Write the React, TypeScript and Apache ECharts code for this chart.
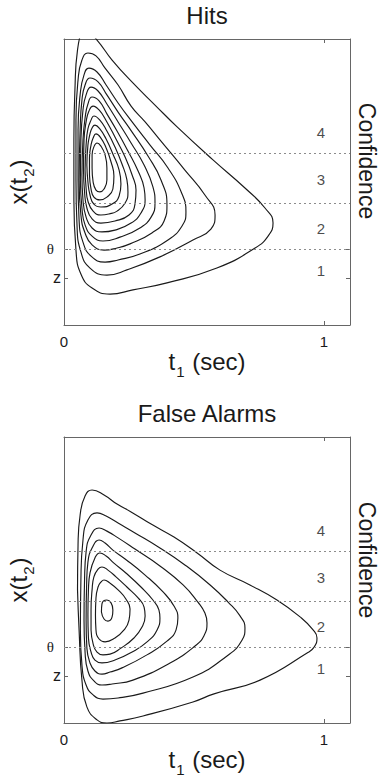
import { useEffect, useRef } from 'react';
import * as echarts from 'echarts';

// ---- data (t1 in seconds on x, x(t2) in arbitrary units on y) ----
const xTickValues = [0, 1];
const xTickLabels = ['0', '1'];
const zLevel = 0.181;
const thetaLevel = 0.292;
const confidenceBounds = [0.292, 0.475, 0.657];
const confidenceLevels = ['1', '2', '3', '4'];
const confidenceLabelY = [0.208, 0.373, 0.558, 0.742];
const confidenceLabelX = 0.988;
const panelTitles = ['Hits', 'False Alarms'];

const hitsContours: number[][][] = [
  [[0.085,1.135],[0.127,1.096],[0.185,1.019],[0.265,0.931],[0.350,0.846],[0.435,0.762],[0.573,0.635],[0.696,0.527],[0.773,0.450],[0.804,0.392],[0.785,0.342],[0.735,0.296],[0.588,0.219],[0.396,0.162],[0.265,0.135],[0.177,0.119],[0.108,0.142],[0.065,0.196],[0.046,0.288],[0.038,0.481],[0.038,0.712],[0.042,0.904],[0.052,1.058]],
  [[0.092,1.046],[0.123,1.035],[0.158,0.988],[0.208,0.923],[0.258,0.842],[0.312,0.781],[0.369,0.712],[0.465,0.596],[0.542,0.500],[0.581,0.423],[0.565,0.369],[0.496,0.327],[0.369,0.262],[0.242,0.212],[0.165,0.192],[0.100,0.219],[0.065,0.281],[0.050,0.385],[0.046,0.558],[0.046,0.788],[0.054,0.942],[0.069,1.019]],
  [[0.096,0.988],[0.127,0.973],[0.162,0.923],[0.208,0.854],[0.262,0.781],[0.331,0.692],[0.400,0.604],[0.454,0.504],[0.469,0.435],[0.454,0.381],[0.400,0.327],[0.292,0.273],[0.208,0.250],[0.158,0.242],[0.104,0.265],[0.073,0.319],[0.058,0.404],[0.054,0.558],[0.054,0.750],[0.062,0.885],[0.077,0.962]],
  [[0.100,0.950],[0.131,0.935],[0.165,0.885],[0.208,0.819],[0.262,0.742],[0.323,0.650],[0.373,0.558],[0.396,0.462],[0.385,0.400],[0.338,0.354],[0.254,0.312],[0.204,0.296],[0.154,0.288],[0.108,0.308],[0.081,0.354],[0.065,0.423],[0.058,0.558],[0.062,0.750],[0.069,0.865],[0.081,0.923]],
  [[0.104,0.915],[0.131,0.900],[0.165,0.850],[0.208,0.781],[0.258,0.700],[0.308,0.615],[0.342,0.531],[0.350,0.469],[0.335,0.415],[0.292,0.373],[0.215,0.338],[0.150,0.323],[0.108,0.342],[0.081,0.385],[0.069,0.450],[0.063,0.558],[0.065,0.712],[0.073,0.827],[0.085,0.885]],
  [[0.108,0.877],[0.135,0.862],[0.165,0.812],[0.204,0.746],[0.246,0.669],[0.285,0.592],[0.308,0.527],[0.312,0.481],[0.296,0.431],[0.258,0.392],[0.196,0.365],[0.146,0.358],[0.108,0.373],[0.085,0.415],[0.073,0.481],[0.069,0.577],[0.073,0.712],[0.081,0.796],[0.092,0.850]],
  [[0.112,0.842],[0.135,0.827],[0.165,0.781],[0.200,0.715],[0.235,0.646],[0.262,0.577],[0.277,0.519],[0.273,0.465],[0.250,0.423],[0.196,0.400],[0.142,0.392],[0.108,0.408],[0.088,0.450],[0.079,0.512],[0.075,0.596],[0.077,0.712],[0.085,0.781],[0.096,0.823]],
  [[0.115,0.804],[0.138,0.788],[0.165,0.746],[0.196,0.685],[0.223,0.619],[0.242,0.558],[0.246,0.512],[0.235,0.469],[0.204,0.438],[0.173,0.427],[0.142,0.423],[0.112,0.438],[0.092,0.477],[0.085,0.527],[0.081,0.596],[0.085,0.692],[0.092,0.754],[0.104,0.788]],
  [[0.119,0.769],[0.138,0.754],[0.162,0.715],[0.188,0.658],[0.212,0.596],[0.219,0.542],[0.212,0.496],[0.185,0.465],[0.142,0.454],[0.115,0.465],[0.100,0.500],[0.092,0.550],[0.088,0.615],[0.092,0.692],[0.100,0.735],[0.108,0.758]],
  [[0.123,0.735],[0.142,0.719],[0.162,0.681],[0.181,0.627],[0.192,0.573],[0.188,0.523],[0.165,0.492],[0.138,0.481],[0.115,0.492],[0.104,0.523],[0.098,0.577],[0.098,0.642],[0.104,0.692],[0.112,0.719]],
  [[0.127,0.700],[0.142,0.688],[0.158,0.654],[0.165,0.604],[0.165,0.558],[0.154,0.523],[0.138,0.512],[0.123,0.519],[0.112,0.550],[0.108,0.604],[0.108,0.654],[0.115,0.685]],
];

const falseAlarmContours: number[][][] = [
  [[0.108,0.896],[0.154,0.877],[0.204,0.842],[0.258,0.812],[0.335,0.765],[0.423,0.715],[0.512,0.654],[0.600,0.588],[0.715,0.531],[0.819,0.473],[0.908,0.408],[0.958,0.358],[0.973,0.327],[0.962,0.292],[0.935,0.269],[0.754,0.165],[0.577,0.112],[0.496,0.081],[0.304,0.027],[0.215,0.008],[0.165,0.000],[0.127,0.012],[0.088,0.062],[0.069,0.165],[0.058,0.358],[0.052,0.512],[0.054,0.685],[0.062,0.800],[0.081,0.873]],
  [[0.127,0.808],[0.162,0.796],[0.208,0.769],[0.273,0.731],[0.369,0.673],[0.465,0.608],[0.562,0.531],[0.631,0.465],[0.677,0.412],[0.696,0.365],[0.685,0.319],[0.627,0.258],[0.496,0.177],[0.304,0.115],[0.208,0.096],[0.150,0.092],[0.112,0.108],[0.085,0.146],[0.069,0.223],[0.063,0.358],[0.065,0.550],[0.073,0.704],[0.092,0.781]],
  [[0.135,0.750],[0.165,0.738],[0.208,0.712],[0.273,0.669],[0.369,0.604],[0.458,0.531],[0.515,0.465],[0.542,0.423],[0.550,0.385],[0.538,0.335],[0.504,0.296],[0.408,0.231],[0.265,0.165],[0.185,0.150],[0.146,0.146],[0.115,0.162],[0.092,0.200],[0.081,0.273],[0.077,0.396],[0.079,0.550],[0.085,0.658],[0.104,0.723]],
  [[0.135,0.704],[0.158,0.692],[0.188,0.665],[0.235,0.631],[0.312,0.569],[0.381,0.504],[0.423,0.450],[0.438,0.404],[0.431,0.358],[0.396,0.315],[0.319,0.262],[0.223,0.212],[0.177,0.196],[0.146,0.188],[0.119,0.200],[0.100,0.231],[0.088,0.288],[0.085,0.396],[0.087,0.531],[0.092,0.619],[0.112,0.681]],
  [[0.138,0.654],[0.162,0.642],[0.192,0.615],[0.238,0.577],[0.296,0.523],[0.342,0.473],[0.365,0.435],[0.369,0.404],[0.358,0.358],[0.323,0.315],[0.262,0.273],[0.196,0.242],[0.146,0.231],[0.119,0.242],[0.104,0.273],[0.094,0.327],[0.092,0.415],[0.094,0.512],[0.100,0.577],[0.119,0.635]],
  [[0.146,0.600],[0.169,0.588],[0.200,0.562],[0.242,0.523],[0.285,0.481],[0.308,0.446],[0.312,0.412],[0.300,0.369],[0.269,0.327],[0.219,0.288],[0.177,0.265],[0.150,0.262],[0.127,0.273],[0.112,0.304],[0.104,0.358],[0.104,0.435],[0.108,0.512],[0.115,0.562],[0.131,0.592]],
  [[0.154,0.550],[0.177,0.538],[0.208,0.512],[0.238,0.477],[0.254,0.438],[0.250,0.396],[0.231,0.358],[0.196,0.327],[0.158,0.312],[0.135,0.323],[0.123,0.358],[0.121,0.415],[0.123,0.481],[0.131,0.523],[0.142,0.542]],
  [[0.165,0.473],[0.181,0.462],[0.188,0.435],[0.185,0.408],[0.169,0.392],[0.154,0.400],[0.144,0.427],[0.146,0.458]],
];

// ---- presentation ----
const FONT = '"Liberation Sans", Arial, Helvetica, sans-serif';
const SERIF = '"Liberation Serif", "DejaVu Serif", serif';
const INK = '#1a1a1a';
const FRAME = '#666';
const X_MAX = 1.1;
const Y_MAX = 1.1;

// start each closed contour at its leftmost (straight-side) point and close it
function closeLoop(pts: number[][]) {
  let k = 0;
  pts.forEach((p, i) => { if (p[0] < pts[k][0]) k = i; });
  const r = pts.slice(k).concat(pts.slice(0, k));
  return r.concat([r[0]]);
}

const bigText = { fontSize: 24, lineHeight: 24, verticalAlign: 'top', fontFamily: FONT, color: INK };
const subText = { fontSize: 15, lineHeight: 15, verticalAlign: 'top', fontFamily: FONT, color: INK, padding: [14, 1, 0, 1] };

function buildAxes(grid: number) {
  const frameLine = { show: true, onZero: false, lineStyle: { color: FRAME, width: 1 } };
  const xTick = { show: true, inside: true, length: 4, customValues: xTickValues, lineStyle: { color: FRAME } };
  const yTick = { show: true, inside: true, length: 4, customValues: [zLevel, thetaLevel], lineStyle: { color: FRAME } };
  const xAxes = [
    {
      type: 'value', gridIndex: grid, position: 'bottom', min: 0, max: X_MAX,
      axisLine: frameLine, axisTick: xTick, splitLine: { show: false },
      axisLabel: {
        show: true, customValues: xTickValues, margin: 9, fontSize: 15, color: INK, fontFamily: FONT,
        alignMinLabel: 'center', alignMaxLabel: 'center', hideOverlap: false,
        formatter: (v: number) => { const i = xTickValues.indexOf(v); return i >= 0 ? xTickLabels[i] : ''; },
      },
      name: '{a|t}{s|1}{a| (sec)}', nameLocation: 'middle', nameGap: 16,
      nameTextStyle: { fontSize: 24, fontFamily: FONT, color: INK, rich: { a: bigText, s: subText } },
    },
    {
      type: 'value', gridIndex: grid, position: 'top', min: 0, max: X_MAX,
      axisLine: frameLine, axisTick: xTick, axisLabel: { show: false }, splitLine: { show: false },
    },
  ];
  const yAxes = [
    {
      type: 'value', gridIndex: grid, position: 'left', min: 0, max: Y_MAX,
      axisLine: frameLine, axisTick: yTick, splitLine: { show: false },
      axisLabel: {
        show: true, customValues: [zLevel, thetaLevel], margin: 3,
        formatter: (v: number) => (Math.abs(v - thetaLevel) < 1e-9 ? '{t|θ}' : '{z|z}'),
        rich: {
          t: { fontFamily: SERIF, fontSize: 15, color: INK, padding: [0, 7, 0, 0] },
          z: { fontFamily: FONT, fontSize: 16, color: INK },
        },
      },
      name: '{a|x(t}{s|2}{a|)}', nameLocation: 'middle', nameGap: 22,
      nameTextStyle: { fontSize: 24, fontFamily: FONT, color: INK, rich: { a: bigText, s: subText } },
    },
    {
      type: 'value', gridIndex: grid, position: 'right', min: 0, max: Y_MAX,
      axisLine: frameLine, axisTick: yTick, axisLabel: { show: false }, splitLine: { show: false },
    },
  ];
  return { xAxes, yAxes };
}

function buildSeries(contours: number[][][], grid: number) {
  const axisIdx = grid * 2;
  const lines: any[] = contours.map((c, i) => ({
    type: 'line',
    xAxisIndex: axisIdx,
    yAxisIndex: axisIdx,
    data: closeLoop(c),
    smooth: 0.5,
    symbol: 'none',
    showSymbol: false,
    silent: true,
    clip: true,
    z: 3,
    lineStyle: { color: INK, width: 1.15 },
    markLine: i === 0 ? {
      silent: true,
      symbol: ['none', 'none'],
      label: { show: false },
      lineStyle: { color: '#8c8c8c', type: [2, 3], width: 1 },
      data: confidenceBounds.map((y) => ({ yAxis: y })),
    } : undefined,
  }));
  lines.push({
    type: 'scatter',
    xAxisIndex: axisIdx,
    yAxisIndex: axisIdx,
    silent: true,
    symbolSize: 1,
    itemStyle: { color: 'rgba(255,255,255,0)' },
    data: confidenceLevels.map((lvl, i) => [confidenceLabelX, confidenceLabelY[i], lvl]),
    label: {
      show: true, position: 'inside', fontSize: 15, color: INK, fontFamily: FONT,
      textBorderWidth: 0, textBorderColor: 'transparent', textShadowBlur: 0,
      formatter: (p: any) => p.value[2],
    },
    z: 4,
  });
  return lines;
}

export default function App() {
  const ref = useRef<HTMLDivElement>(null);

  useEffect(() => {
    if (!ref.current) return;
    const chart = echarts.init(ref.current, null, { renderer: 'svg' });
    const a0 = buildAxes(0);
    const a1 = buildAxes(1);
    const titleStyle = { fontSize: 24, fontFamily: FONT, fill: INK, align: 'center', verticalAlign: 'middle' };
    chart.setOption({
      animation: false,
      backgroundColor: '#ffffff',
      grid: [
        { left: 64, top: 39, width: 286, height: 286, containLabel: false, outerBoundsMode: 'none' },
        { left: 64, top: 437, width: 286, height: 286, containLabel: false, outerBoundsMode: 'none' },
      ],
      xAxis: [...a0.xAxes, ...a1.xAxes],
      yAxis: [...a0.yAxes, ...a1.yAxes],
      series: [...buildSeries(hitsContours, 0), ...buildSeries(falseAlarmContours, 1)],
      graphic: [
        { type: 'text', x: 207, y: 15, silent: true, style: { ...titleStyle, text: panelTitles[0] } },
        { type: 'text', x: 207, y: 413, silent: true, style: { ...titleStyle, text: panelTitles[1] } },
        { type: 'text', x: 367, y: 161, rotation: -Math.PI / 2, silent: true, style: { ...titleStyle, fontSize: 23, text: 'Confidence' } },
        { type: 'text', x: 367, y: 560, rotation: -Math.PI / 2, silent: true, style: { ...titleStyle, fontSize: 23, text: 'Confidence' } },
      ],
    });
    return () => chart.dispose();
  }, []);

  return (
    <div
      ref={ref}
      style={{ position: 'absolute', left: 0, top: 0, width: 380, height: 778, background: '#fff' }}
    />
  );
}
